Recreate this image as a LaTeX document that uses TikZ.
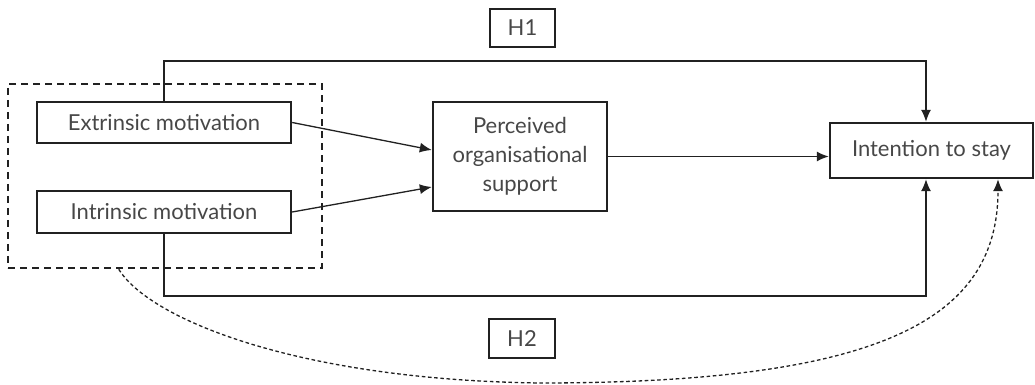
\documentclass[tikz,border=0pt]{standalone}
\usepackage{fontspec}
\setmainfont{Lato}
\usetikzlibrary{arrows.meta,calc}
\definecolor{txt}{gray}{0.28}
\definecolor{ln}{gray}{0.13}
\begin{document}
\begin{tikzpicture}[x=0.5pt,y=-0.5pt,
  box/.style={draw=ln,line width=1.2pt,rectangle,inner sep=0pt,text=txt,font=\fontsize{11}{14.5}\selectfont,align=center},
  grpbox/.style={draw=ln,line width=1.25pt,dash pattern=on 3.6pt off 2.4pt,rectangle,inner sep=0pt},
  conn/.style={draw=ln,line width=0.65pt},
  arr/.style={conn,-{Latex[length=6pt,width=5pt]}},
  darr/.style={draw=ln,line width=0.65pt,dash pattern=on 1.8pt off 1.3pt,-{Latex[length=6pt,width=5pt]}}
]
\useasboundingbox (0,0) rectangle (1035,385);
\node[grpbox,minimum width=157pt,minimum height=92pt] (grp) at (165,176) {};
\node[box,minimum width=127pt,minimum height=20.5pt] (ext) at (164,122.5) {Extrinsic motivation};
\node[box,minimum width=127pt,minimum height=21pt] (intr) at (164,212) {Intrinsic motivation};
\node[box,minimum width=87pt,minimum height=54.5pt] (pos) at (520,156.5) {Perceived\\organisational\\support};
\node[box,minimum width=101.5pt,minimum height=27.5pt] (its) at (931.5,150.5) {Intention to stay};
\node[box,minimum width=32.5pt,minimum height=19pt] (h1) at (522.5,28) {H1};
\node[box,minimum width=33pt,minimum height=19.5pt] (h2) at (522,338.5) {H2};
\coordinate (topR) at (926,61);
\coordinate (botR) at (926,296);
\coordinate (dstart) at ($(grp.south west)+(112,0)$);
\coordinate (dend) at ($(its.south)+(66.5,0)$);
\draw[arr] (ext.north) |- (topR) -- (topR |- its.north);
\draw[arr] (intr.south) |- (botR) -- (botR |- its.south);
\draw[arr] (ext.east) -- ($(pos.west)+(0,-6.5)$);
\draw[arr] (intr.east) -- ($(pos.west)+(0,30.5)$);
\draw[arr] (pos.east) -- (pos.east -| its.west);
\draw[darr] (dstart) .. controls (150,320) and (300,380) .. (540,383)
  .. controls (880,383) and (998,320) .. (dend);
\end{tikzpicture}
\end{document}
